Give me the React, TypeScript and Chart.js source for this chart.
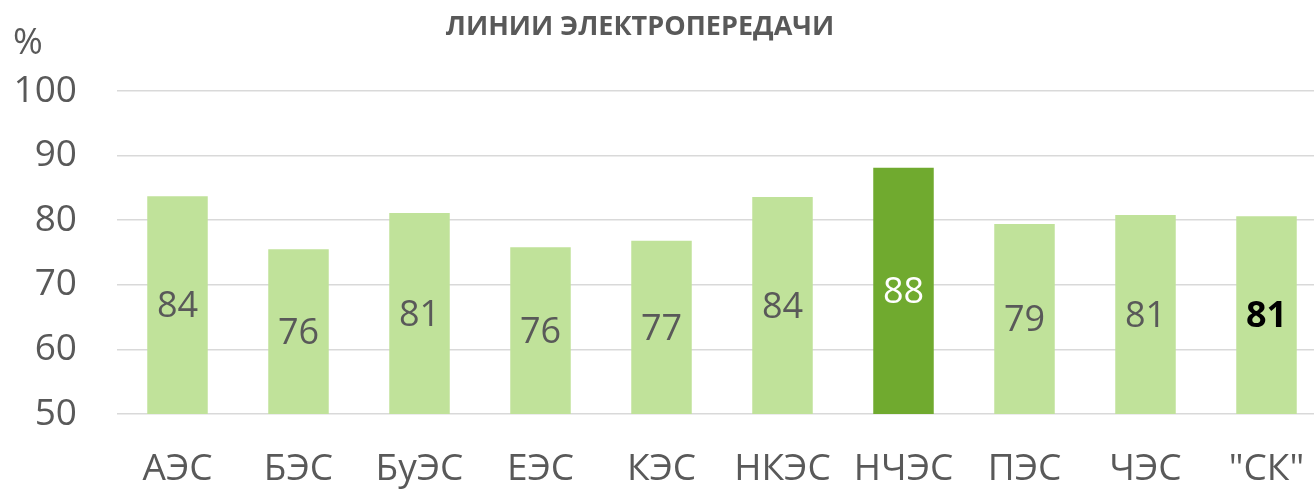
import React, { useEffect, useRef } from "react";
import { Chart, registerables } from "chart.js";

Chart.register(...registerables);

const categories = ["АЭС", "БЭС", "БуЭС", "ЕЭС", "КЭС", "НКЭС", "НЧЭС", "ПЭС", "ЧЭС", "\"СК\""];
const values = [83.7, 75.5, 81.1, 75.8, 76.8, 83.6, 88.1, 79.4, 80.8, 80.6];
const barColors = ["#C0E29A", "#C0E29A", "#C0E29A", "#C0E29A", "#C0E29A", "#C0E29A", "#70AA2F", "#C0E29A", "#C0E29A", "#C0E29A"];
const labelColors = ["#595959", "#595959", "#595959", "#595959", "#595959", "#595959", "#FFFFFF", "#595959", "#595959", "#000000"];
const labelWeights = ["normal", "normal", "normal", "normal", "normal", "normal", "normal", "normal", "normal", "bold"];
const title = "ЛИНИИ ЭЛЕКТРОПЕРЕДАЧИ";
const unit = "%";

const FONT = "'Open Sans', sans-serif";

const overlay = {
  id: "overlay",
  afterDatasetsDraw(chart: any) {
    const ctx = chart.ctx;
    const meta = chart.getDatasetMeta(0);
    const area = chart.chartArea;
    ctx.save();
    ctx.textAlign = "center";
    ctx.textBaseline = "middle";
    meta.data.forEach((bar: any, i: number) => {
      ctx.font = `${labelWeights[i]} 36px ${FONT}`;
      ctx.fillStyle = labelColors[i];
      const y = (bar.y + Math.min(bar.base, area.bottom)) / 2;
      ctx.fillText(String(Math.round(values[i])), bar.x, y + 2);
    });
    ctx.restore();
  },
  afterDraw(chart: any) {
    const ctx = chart.ctx;
    const area = chart.chartArea;
    ctx.save();
    ctx.textBaseline = "middle";
    ctx.textAlign = "center";
    ctx.font = `bold 27px ${FONT}`;
    ctx.fillStyle = "#595959";
    ctx.fillText(title, 640, 27);
    ctx.textAlign = "left";
    ctx.font = `normal 36px ${FONT}`;
    ctx.fillText(unit, 13, area.top - 47);
    ctx.restore();
  },
};

export default function App() {
  const ref = useRef<HTMLCanvasElement>(null);
  useEffect(() => {
    const chart = new Chart(ref.current!, {
      type: "bar",
      data: {
        labels: categories,
        datasets: [
          {
            data: values,
            backgroundColor: barColors,
            barPercentage: 0.5,
            categoryPercentage: 1,
          },
        ],
      },
      options: {
        animation: false,
        responsive: false,
        maintainAspectRatio: false,
        layout: { padding: { top: 91, right: 13, left: 0, bottom: 0 } },
        plugins: { legend: { display: false }, tooltip: { enabled: false }, title: { display: false } },
        scales: {
          x: {
            grid: { display: false },
            border: { display: false },
            ticks: { color: "#595959", font: { family: FONT, size: 37 }, padding: 25, maxRotation: 0, autoSkip: false },
            afterFit: (s: any) => { s.height = 75; },
          },
          y: {
            min: 50,
            max: 100,
            ticks: { stepSize: 10, color: "#595959", font: { family: FONT, size: 37 }, padding: 40 },
            grid: { color: "#D9D9D9", lineWidth: 1.5, drawTicks: false },
            border: { display: false },
            afterFit: (s: any) => { s.width = 117; },
          },
        },
      },
      plugins: [overlay],
    });
    return () => chart.destroy();
  }, []);
  return (
    <div style={{ position: "absolute", left: 0, top: 0, width: 1314, height: 489, overflow: "hidden", background: "#fff" }}>
      <canvas ref={ref} width={1340} height={489} style={{ width: 1340, height: 489, display: "block" }} />
    </div>
  );
}
